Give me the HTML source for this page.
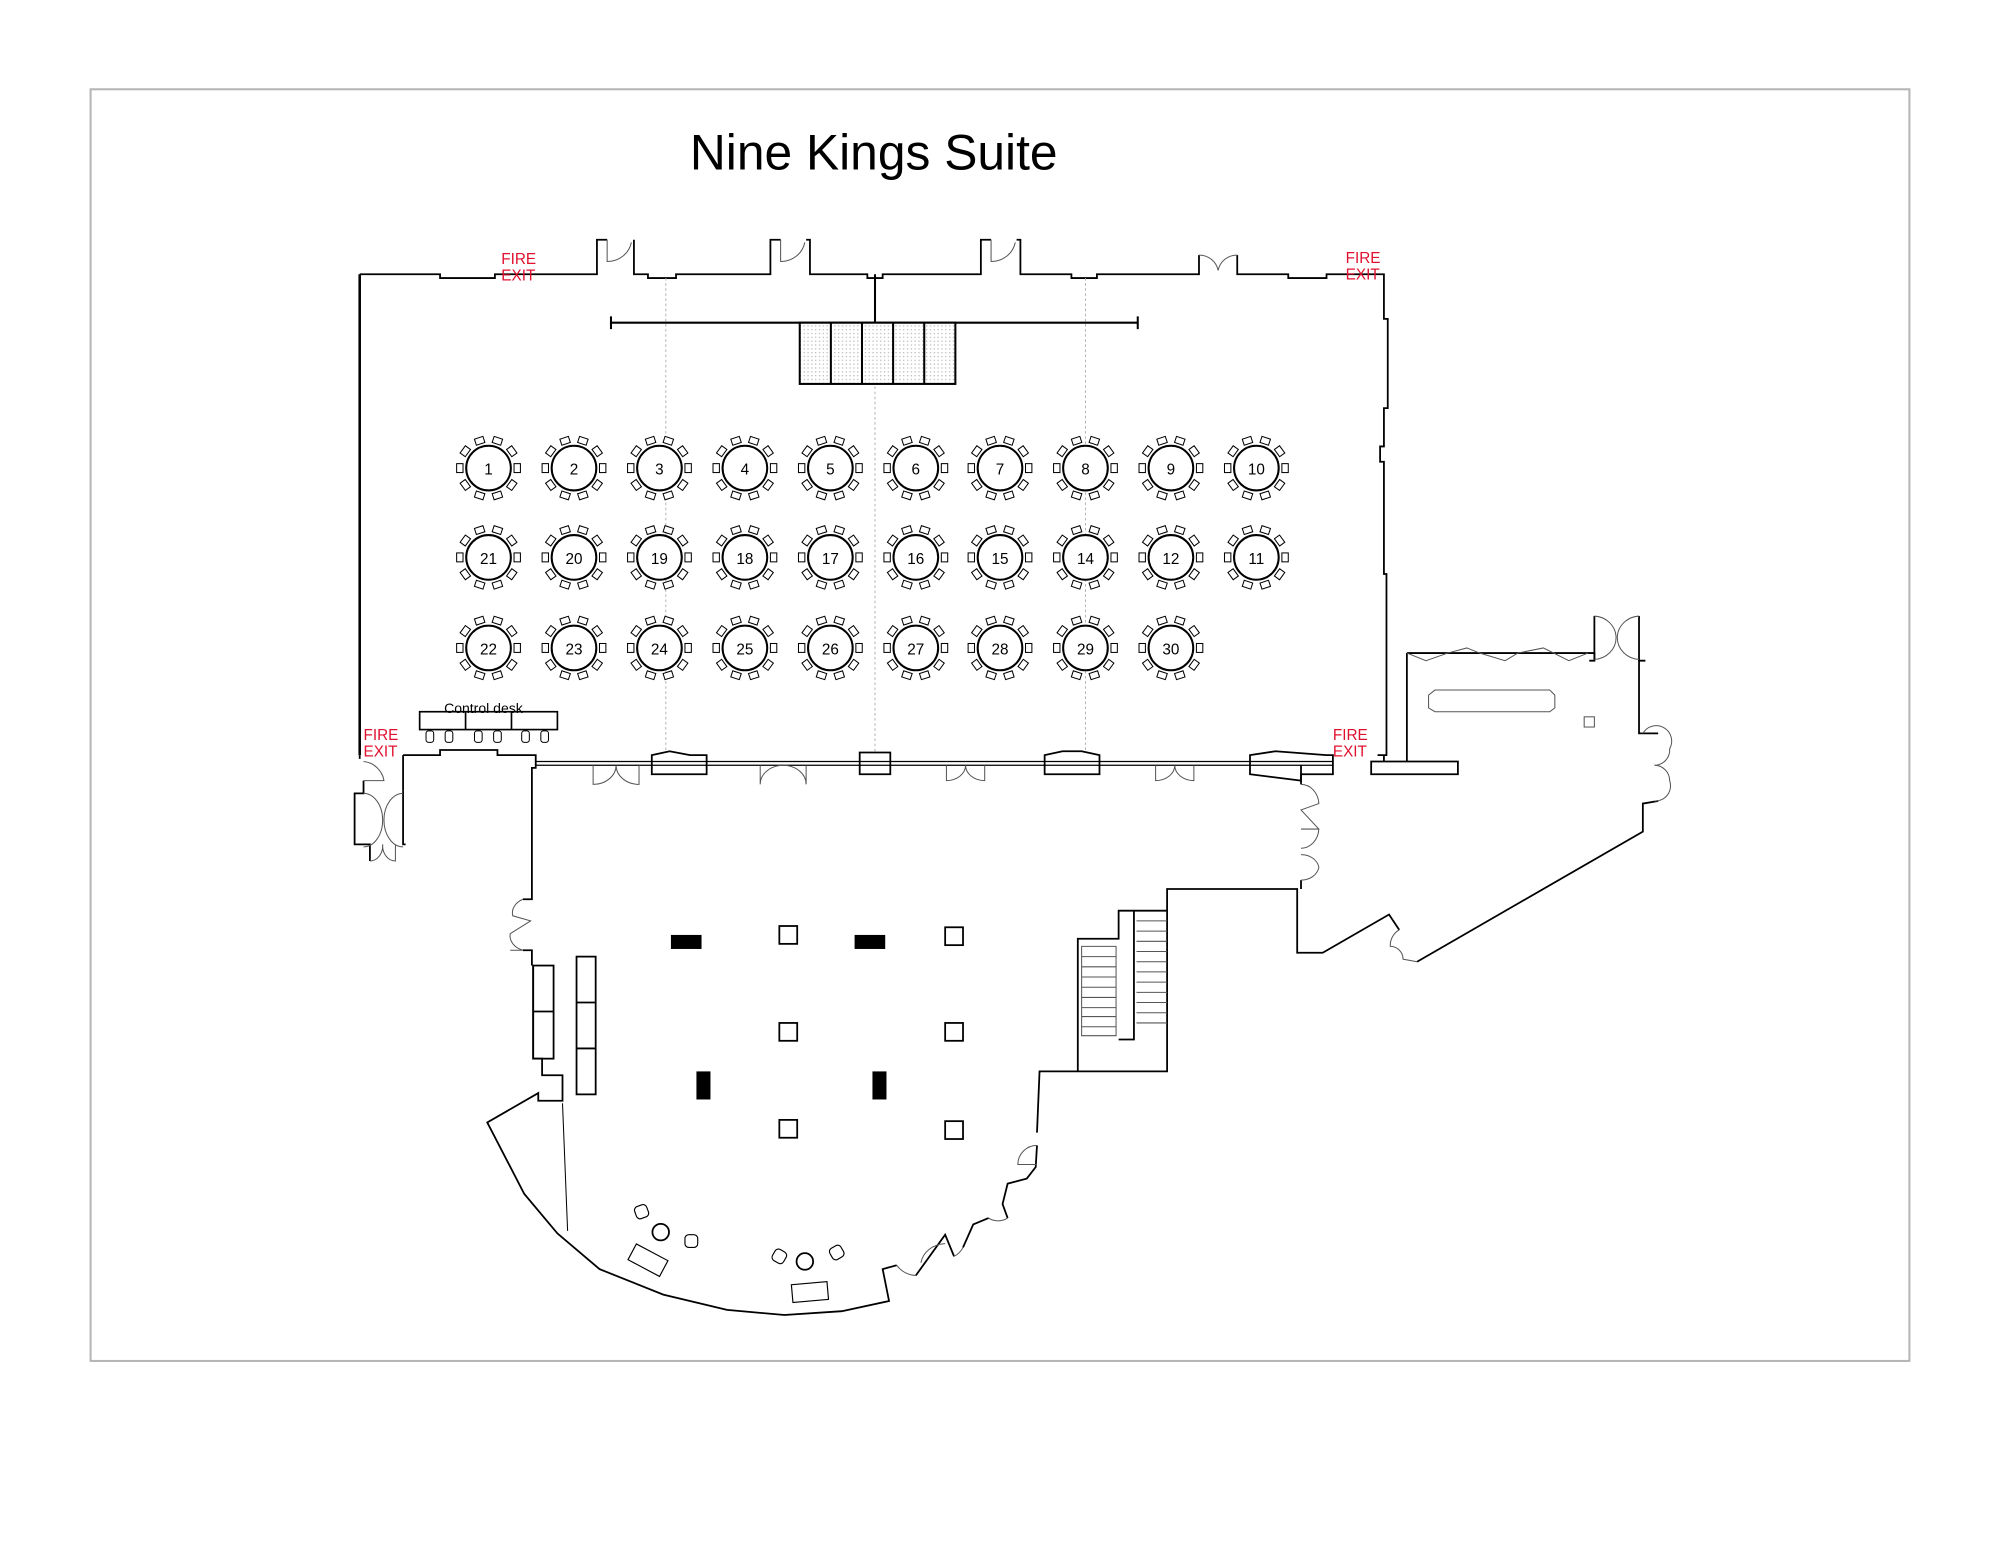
<!DOCTYPE html>
<html><head><meta charset="utf-8"><style>
html,body{margin:0;padding:0;background:#fff}
svg{display:block}
text{font-family:"Liberation Sans",sans-serif}
</style></head><body>
<svg width="2000" height="1545" viewBox="0 0 1568 1211.3" xmlns="http://www.w3.org/2000/svg">
<defs>
<g id="t">
<g fill="#fff" stroke="#000" stroke-width="0.8">
<rect x="20" y="-3.5" width="5" height="7" transform="rotate(0)"/>
<rect x="20" y="-3.5" width="5" height="7" transform="rotate(36)"/>
<rect x="20" y="-3.5" width="5" height="7" transform="rotate(72)"/>
<rect x="20" y="-3.5" width="5" height="7" transform="rotate(108)"/>
<rect x="20" y="-3.5" width="5" height="7" transform="rotate(144)"/>
<rect x="20" y="-3.5" width="5" height="7" transform="rotate(180)"/>
<rect x="20" y="-3.5" width="5" height="7" transform="rotate(216)"/>
<rect x="20" y="-3.5" width="5" height="7" transform="rotate(252)"/>
<rect x="20" y="-3.5" width="5" height="7" transform="rotate(288)"/>
<rect x="20" y="-3.5" width="5" height="7" transform="rotate(324)"/>
</g>
<circle r="17.5" fill="#fff" stroke="#000" stroke-width="1.6"/>
</g>
<pattern id="dots" width="3" height="3" patternUnits="userSpaceOnUse"><rect width="3" height="3" fill="#fff"/><rect width="1" height="1" fill="#bbb"/></pattern>
</defs>
<rect x="71" y="70" width="1426" height="997" fill="none" stroke="#b5b5b5" stroke-width="1.6"/>
<text x="685" y="133" font-size="39" text-anchor="middle" fill="#000">Nine Kings Suite</text>

<g fill="none" stroke="#000" stroke-width="1.4">
<!-- main room top wall -->
<path d="M282,215 L345,215 L345,218 L388,218 L388,215 L468,215 L468,188 L476,188 M497,188 L497,215 L508,215 L508,218 L530,218 L530,215 L604,215 L604,188 L612,188 M632,188 L635,188 L635,215 L680,215 L680,218 L692,218 L692,215 L769,215 L769,188 L777,188 M797,188 L800,188 L800,215 L840,215 L840,218 L860,218 L860,215 L940,215 L940,200 M970,200 L970,215 L1010,215 L1010,218 L1040,218 L1040,215 L1083,215"/>
<path d="M1083,215 L1085,215 L1085,250 L1088,250 L1088,320 L1085,320 L1085,350 L1082,350 L1082,362 L1085,362 L1085,450 L1087,450 L1087,592 L1080,592"/>
<path d="M282,215 L282,592" stroke-width="2"/>
<!-- main bottom wall -->
<path d="M420,597 L1045,597 M420,600 L1045,600" stroke-width="1"/>
<path d="M511,592 L525,589 L541,592 L554,592 L554,607 L511,607 Z M674,590 L698,590 L698,607 L674,607 Z M819,592 L833,589 L848,589 L862,592 L862,607 L819,607 Z M980,592 L1000,589 L1040,592 L1045,592 L1045,607 L1020,607 L1020,612 L980,607 Z"/>
<path d="M316,592 L345,592 L345,588 L390,588 L390,592 L420,592 L420,602 L417,602 L417,705 L410,705 M410,745 L417,745 L417,757"/>
<path d="M1075,597 L1143,597 L1143,607 L1075,607 Z M1103,512 L1103,597"/>
<path d="M316,592 L316,620 M282,592 L282,595"/>
<!-- left vestibule -->
<path d="M285,612 L285,622 L278,622 L278,662 L290,662 L290,675 M316,620 L316,662 L318,662"/>
<!-- lower room -->
<path d="M418,757 L418,830 L425,830 L425,843 L441,843 L441,863 L422,863 L422,857 L382,880 L411,936 L437,967 L470,995 L520,1015 L570,1027 L615,1031 L660,1028 L697,1020 L692,995 L703,992 M718,1000 L741,968 L748,985 M755,978 L763,960 L775,955 M790,955 L786,944 L790,928 L805,924 L812,915 L813,898 M813,888 L815,840 L845,840 L915,840 L915,697 L1017,697 L1017,747 L1037,747 L1089,717 L1097,729 M1111,754 L1288,652 L1288,630 L1300,628 M1300,575 L1285,575 L1285,518 L1290,518 M1246,518 L1250,518 L1250,512 L1103,512"/>
<path d="M1020,600 L1020,615 M1020,690 L1020,697 M1085,592 L1085,597"/>
<path d="M1250,483 L1250,518 M1285,483 L1285,518"/>
<!-- stairs -->
<path d="M845,840 L845,736 L877,736 L877,714 L889,714 L889,815 L877,815 M889,714 L915,714"/>
</g>
<g stroke="#555" stroke-width="0.8" fill="none">
<path d="M848,742 L875,742 L875,812 L848,812 Z M848,750 H875 M848,758 H875 M848,766 H875 M848,774 H875 M848,782 H875 M848,790 H875 M848,797 H875 M848,805 H875"/>
<path d="M891,722 H915 M891,730 H915 M891,738 H915 M891,746 H915 M891,754 H915 M891,762 H915 M891,770 H915 M891,778 H915 M891,786 H915 M891,794 H915 M891,802 H915"/>
<!-- doors -->
<path d="M476,188 L476,205 A19,19 0 0 0 495,190"/>
<path d="M612,188 L612,205 A19,19 0 0 0 631,190"/>
<path d="M777,188 L777,205 A19,19 0 0 0 796,190"/>
<path d="M940,200 A15,15 0 0 1 955,212 A15,15 0 0 1 970,200"/>
<path d="M465,600 L465,615 A18,15 0 0 0 483,600 A18,15 0 0 0 501,615 L501,600"/>
<path d="M596,600 L596,615 A18,15 0 0 1 614,600 A18,15 0 0 1 632,615 L632,600"/>
<path d="M742,600 L742,612 A15,12 0 0 0 757,600 A15,12 0 0 0 772,612 L772,600"/>
<path d="M906,600 L906,612 A15,12 0 0 0 921,600 A15,12 0 0 0 936,612 L936,600"/>
<path d="M285,597 A18,18 0 0 1 301,612 L285,612"/>
<path d="M285,622 A15,21 0 0 1 300,643 A15,21 0 0 1 285,664 M316,622 A15,21 0 0 0 301,643 A15,21 0 0 0 316,664"/>
<path d="M290,675 A10,12 0 0 0 300,662 A10,12 0 0 0 310,675 L310,662"/>
<path d="M410,705 A15,12 0 0 0 402,718 L416,722 L400,732 A15,12 0 0 0 410,745 M400,745 L410,745"/>
<path d="M1020,615 A14,16 0 0 1 1034,630 L1020,635 L1034,650 A14,16 0 0 1 1020,665 M1020,670 A14,12 0 0 1 1034,680 A14,12 0 0 1 1020,690 M1020,650 L1034,650"/>
<path d="M1250,483 A18,17 0 0 1 1267,500 A18,17 0 0 1 1250,517 M1285,483 A18,17 0 0 0 1268,500 A18,17 0 0 0 1285,517"/>
<path d="M1288,575 A12,12 0 0 1 1309,587 A12,12 0 0 1 1297,600 A12,12 0 0 1 1309,612 A12,12 0 0 1 1297,628"/>
<path d="M1097,729 A14,14 0 0 0 1090,742 A10,10 0 0 1 1100,752 L1111,754"/>
<path d="M813,898 A15,15 0 0 0 798,913 L813,913"/>
<path d="M703,992 A20,20 0 0 0 718,1000 M748,985 A16,16 0 0 0 755,978 M775,955 A14,14 0 0 0 790,955"/>
<path d="M722,990 A20,18 0 0 1 741,975"/>
<path d="M1103,512 L1118,518 L1135,512 L1150,508 L1160,512 L1180,518 L1190,512 L1210,508 L1230,518 L1245,512"/>
<path d="M1125,541 L1215,541 L1219,545 L1219,555 L1215,558 L1125,558 L1120,555 L1120,545 Z"/>
<rect x="1242" y="562" width="8" height="8"/>
</g>
<!-- dotted guides -->
<g stroke="#aaa" stroke-width="0.7" stroke-dasharray="2,2">
<path d="M522,218 V589 M686,255 V589 M851,218 V589"/>
</g>
<!-- stage -->
<g stroke="#000" fill="none" stroke-width="1.6">
<path d="M479,253 H892 M479,248 V258 M892,248 V258 M686,215 V253"/>
<rect x="627" y="253" width="122" height="48" fill="url(#dots)"/>
<path d="M651.4,253 V301 M675.8,253 V301 M700.2,253 V301 M724.6,253 V301"/>
</g>
<!-- tables -->
<g>
<use href="#t" x="383" y="367"/><use href="#t" x="450" y="367"/><use href="#t" x="517" y="367"/><use href="#t" x="584" y="367"/><use href="#t" x="651" y="367"/><use href="#t" x="718" y="367"/><use href="#t" x="784" y="367"/><use href="#t" x="851" y="367"/><use href="#t" x="918" y="367"/><use href="#t" x="985" y="367"/>
<use href="#t" x="383" y="437"/><use href="#t" x="450" y="437"/><use href="#t" x="517" y="437"/><use href="#t" x="584" y="437"/><use href="#t" x="651" y="437"/><use href="#t" x="718" y="437"/><use href="#t" x="784" y="437"/><use href="#t" x="851" y="437"/><use href="#t" x="918" y="437"/><use href="#t" x="985" y="437"/>
<use href="#t" x="383" y="508"/><use href="#t" x="450" y="508"/><use href="#t" x="517" y="508"/><use href="#t" x="584" y="508"/><use href="#t" x="651" y="508"/><use href="#t" x="718" y="508"/><use href="#t" x="784" y="508"/><use href="#t" x="851" y="508"/><use href="#t" x="918" y="508"/>
</g>
<g font-size="12" text-anchor="middle" fill="#000">
<text x="383" y="372">1</text><text x="450" y="372">2</text><text x="517" y="372">3</text><text x="584" y="372">4</text><text x="651" y="372">5</text><text x="718" y="372">6</text><text x="784" y="372">7</text><text x="851" y="372">8</text><text x="918" y="372">9</text><text x="985" y="372">10</text>
<text x="383" y="442">21</text><text x="450" y="442">20</text><text x="517" y="442">19</text><text x="584" y="442">18</text><text x="651" y="442">17</text><text x="718" y="442">16</text><text x="784" y="442">15</text><text x="851" y="442">14</text><text x="918" y="442">12</text><text x="985" y="442">11</text>
<text x="383" y="513">22</text><text x="450" y="513">23</text><text x="517" y="513">24</text><text x="584" y="513">25</text><text x="651" y="513">26</text><text x="718" y="513">27</text><text x="784" y="513">28</text><text x="851" y="513">29</text><text x="918" y="513">30</text>
</g>
<!-- control desk -->
<g stroke="#000" fill="#fff" stroke-width="1.3">
<rect x="329" y="558" width="108" height="14"/>
<path d="M365,558 V572 M401,558 V572"/>
<g stroke-width="0.8"><rect x="334" y="573" width="6" height="9" rx="2"/><rect x="349" y="573" width="6" height="9" rx="2"/><rect x="372" y="573" width="6" height="9" rx="2"/><rect x="387" y="573" width="6" height="9" rx="2"/><rect x="409" y="573" width="6" height="9" rx="2"/><rect x="424" y="573" width="6" height="9" rx="2"/></g>
</g>
<text x="379" y="559" font-size="11" text-anchor="middle">Control desk</text>
<g font-size="12" fill="#e0102f">
<text x="393" y="207">FIRE</text><text x="393" y="220">EXIT</text>
<text x="1055" y="206">FIRE</text><text x="1055" y="219">EXIT</text>
<text x="285" y="580">FIRE</text><text x="285" y="593">EXIT</text>
<text x="1045" y="580">FIRE</text><text x="1045" y="593">EXIT</text>
</g>
<!-- lower room objects -->
<g fill="#000"><rect x="526" y="733" width="24" height="11"/><rect x="670" y="733" width="24" height="11"/><rect x="546" y="840" width="11" height="22"/><rect x="684" y="840" width="11" height="22"/></g>
<g fill="none" stroke="#000" stroke-width="1.4">
<rect x="611" y="726" width="14" height="14"/><rect x="741" y="727" width="14" height="14"/><rect x="611" y="802" width="14" height="14"/><rect x="741" y="802" width="14" height="14"/><rect x="611" y="878" width="14" height="14"/><rect x="741" y="879" width="14" height="14"/>
<rect x="418" y="757" width="16" height="73"/><path d="M418,793 H434"/>
<rect x="452" y="750" width="15" height="108"/><path d="M452,786 H467 M452,822 H467"/>
<path d="M441,865 L445,965" stroke-width="0.8"/>
<circle cx="518" cy="966" r="6.5"/><circle cx="631" cy="989" r="6.5"/>
</g>
<g fill="#fff" stroke="#000" stroke-width="0.9">
<rect x="-14" y="-7" width="28" height="14" transform="translate(508,988) rotate(28)"/>
<rect x="-14" y="-7" width="28" height="14" transform="translate(635,1013) rotate(-5)"/>
<rect x="-5" y="-5" width="10" height="10" rx="3" transform="translate(503,950) rotate(-20)"/>
<rect x="-5" y="-5" width="10" height="10" rx="3" transform="translate(542,973)"/>
<rect x="-5" y="-5" width="10" height="10" rx="3" transform="translate(611,985) rotate(30)"/>
<rect x="-5" y="-5" width="10" height="10" rx="3" transform="translate(656,982) rotate(-30)"/>
</g>
</svg>
</body></html>
